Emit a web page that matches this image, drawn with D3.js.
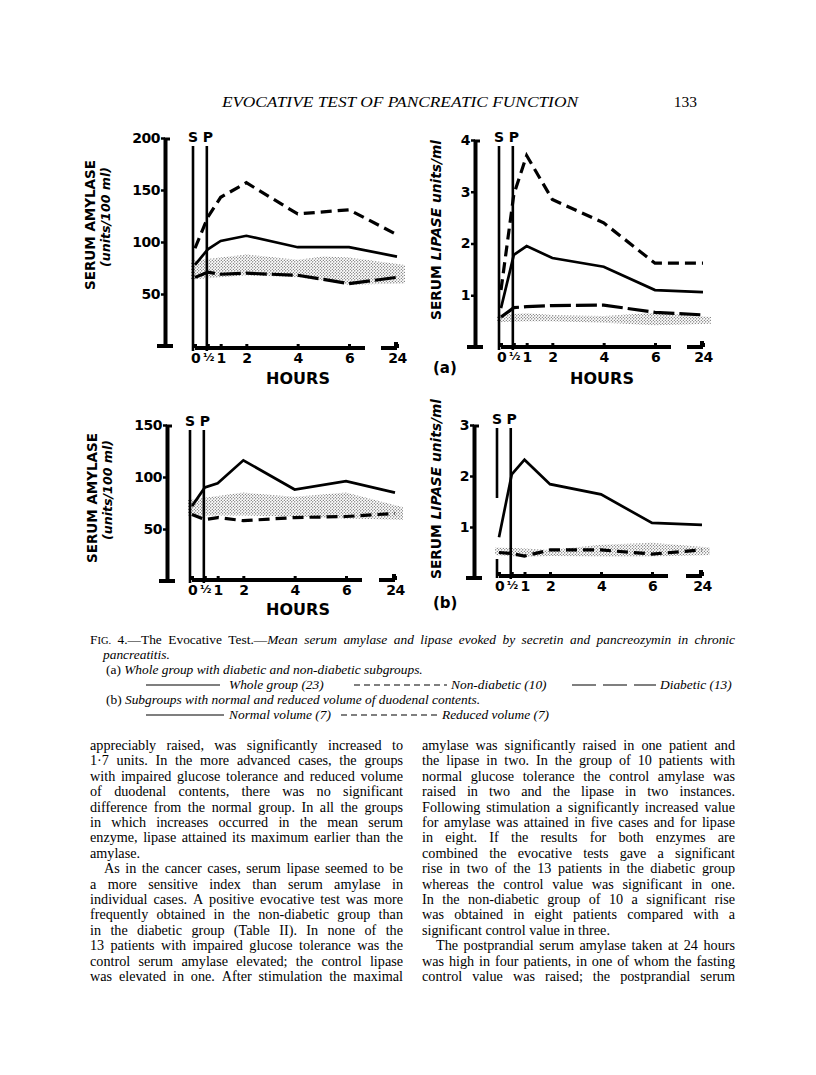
<!DOCTYPE html>
<html>
<head>
<meta charset="utf-8">
<script src="https://cdn.jsdelivr.net/npm/d3@7"></script>
<style>
  body { margin: 0; background: #fff; }
  svg { display: block; }
</style>
</head>
<body>
<svg width="816" height="1075"></svg>
<script>
// ---- data ----
const hours = [0, 0.5, 1, 2, 4, 6, 24];
const hourLabels = ["0", "½", "1", "2", "4", "6", "24"];

// (a) amylase, units/100 ml
const amyTicks = [50, 100, 150, 200];
const amyWhole = [78, 93, 101, 106, 95, 95, 86];
const amyNonDiabetic = [94, 124, 143, 157, 127, 131, 107];
const amyDiabetic = [66, 71, 69, 70, 68, 60, 66];
const amyBandHours = [0, 1, 2, 4, 5, 6, 24];
const amyBandLow = [64, 66, 68, 66, 63, 59, 60];
const amyBandHigh = [82, 85, 88, 83, 86, 85, 78];

// (a) lipase, units/ml
const lipTicks = [1, 2, 3, 4];
const lipWhole = [0.75, 1.78, 1.95, 1.72, 1.55, 1.1, 1.06];
const lipNonDiabetic = [1.1, 2.95, 3.7, 2.85, 2.4, 1.62, 1.62];
const lipDiabetic = [0.58, 0.76, 0.78, 0.8, 0.81, 0.67, 0.62];
const lipBandHours = [0, 1, 2, 4, 6, 24];
const lipBandLow = [0.48, 0.5, 0.5, 0.47, 0.42, 0.45];
const lipBandHigh = [0.62, 0.65, 0.62, 0.6, 0.66, 0.58];

// (b) amylase
const amyTicksB = [50, 100, 150];
const amyNormalVol = [72, 90, 94, 116, 88, 96, 85];
const amyReducedVol = [64, 59, 61, 58, 61, 62, 65];
const amyBandBHours = [0, 2, 4, 6, 24];
const amyBandBLow = [63, 63, 62, 60, 59];
const amyBandBHigh = [78, 85, 81, 85, 71];

// (b) lipase
const lipTicksB = [1, 2, 3];
const lipNormalVol = [0.8, 2.03, 2.32, 1.84, 1.64, 1.08, 1.04];
const lipReducedVol = [0.5, 0.48, 0.43, 0.55, 0.55, 0.47, 0.55];
const lipBandBHours = [0, 1, 2, 4, 6, 24];
const lipBandBLow = [0.45, 0.41, 0.43, 0.42, 0.42, 0.45];
const lipBandBHigh = [0.6, 0.58, 0.55, 0.65, 0.69, 0.6];

const SANS = "'DejaVu Sans', sans-serif";
const SERIF = "'Liberation Serif', 'Times New Roman', serif";
const svg = d3.select("svg");

// stippled "normal range" fill
const pat = svg.append("defs").append("pattern")
  .attr("id", "stipple").attr("width", 3).attr("height", 3)
  .attr("patternUnits", "userSpaceOnUse");
pat.append("circle").attr("cx", 0.8).attr("cy", 0.8).attr("r", 0.6).attr("fill", "#333");
pat.append("circle").attr("cx", 2.3).attr("cy", 2.3).attr("r", 0.55).attr("fill", "#333");

const solid = null, shortDash = "11,6", longDash = "21,5";

const panels = [
  {
    yMax: 200, ticks: amyTicks, yAxisX: 165, yTop: 138, y0: 346, base: 348,
    xr: [195, 349, 397], lineTop: 146,
    band: [amyBandHours, amyBandLow, amyBandHigh],
    series: [[amyWhole, solid], [amyNonDiabetic, shortDash], [amyDiabetic, longDash]],
    title: "amylase", titleX: 90, titleY: 225, hoursLabel: [298, 384]
  },
  {
    yMax: 4, ticks: lipTicks, yAxisX: 475, yTop: 140, y0: 347, base: 347,
    xr: [501, 655, 703], lineTop: 146,
    band: [lipBandHours, lipBandLow, lipBandHigh],
    series: [[lipWhole, solid], [lipNonDiabetic, shortDash], [lipDiabetic, longDash]],
    title: "lipase", titleX: 436, titleY: 230, hoursLabel: [602, 384], tag: ["(a)", 433, 373]
  },
  {
    yMax: 150, ticks: amyTicksB, yAxisX: 167, yTop: 425, y0: 581, base: 580,
    xr: [192, 346, 395], lineTop: 430,
    band: [amyBandBHours, amyBandBLow, amyBandBHigh],
    series: [[amyNormalVol, solid], [amyReducedVol, shortDash]],
    title: "amylase", titleX: 92, titleY: 498, hoursLabel: [298, 615]
  },
  {
    yMax: 3, ticks: lipTicksB, yAxisX: 474, yTop: 425, y0: 578, base: 576,
    xr: [499, 652, 702], lineTop: 428, sGap: [498, 559],
    band: [lipBandBHours, lipBandBLow, lipBandBHigh],
    series: [[lipNormalVol, solid], [lipReducedVol, shortDash]],
    title: "lipase", titleX: 436, titleY: 489, tag: ["(b)", 433, 608]
  }
];

function drawPanel(p) {
  const x = d3.scaleLinear().domain([0, 6, 24]).range(p.xr);
  const y = d3.scaleLinear().domain([0, p.yMax]).range([p.y0, p.yTop]);
  const g = svg.append("g");

  // normal range band
  const [bh, blo, bhi] = p.band;
  const last = bh.length - 1;
  const bx = (i) => x(bh[i]) + (i === 0 ? -4 : i === last ? 8 : 0);
  g.append("path")
    .datum(bh)
    .attr("fill", "url(#stipple)")
    .attr("d", d3.area().x((d, i) => bx(i)).y0((d, i) => y(blo[i])).y1((d, i) => y(bhi[i])));

  // mean curves
  const line = d3.line().x((d, i) => x(hours[i])).y(d => y(d));
  p.series.forEach(([vals, dash]) => {
    g.append("path")
      .datum(vals)
      .attr("fill", "none")
      .attr("stroke", "#000")
      .attr("stroke-width", dash ? 3.2 : 2.7)
      .attr("stroke-dasharray", dash)
      .attr("d", line);
  });

  // S (secretin) and P (pancreozymin) markers
  const sx = x(0) - 2, px = x(0.5) - 1;
  if (p.sGap) {
    g.append("line").attr("x1", sx).attr("x2", sx).attr("y1", p.lineTop).attr("y2", p.sGap[0]);
    g.append("line").attr("x1", sx).attr("x2", sx).attr("y1", p.sGap[1]).attr("y2", p.base + 2);
  } else {
    g.append("line").attr("x1", sx).attr("x2", sx).attr("y1", p.lineTop).attr("y2", p.base + 3);
  }
  g.append("line").attr("x1", px).attr("x2", px).attr("y1", p.lineTop).attr("y2", p.base + 3);
  g.selectAll("line").attr("stroke", "#000").attr("stroke-width", 2.6);
  [["S", sx], ["P", px + 1]].forEach(([t, lx]) => {
    g.append("text").attr("x", lx).attr("y", p.lineTop - 4).attr("text-anchor", "middle")
      .attr("font-family", SANS).attr("font-weight", "bold").attr("font-size", 14).text(t);
  });

  // y axis
  const ya = g.append("g").attr("transform", `translate(${p.yAxisX},0)`)
    .call(d3.axisLeft(y).tickValues(p.ticks).tickFormat(d3.format("d"))
      .tickSizeInner(4).tickSizeOuter(0).tickPadding(1));
  ya.select(".domain").attr("stroke-width", 4);
  ya.selectAll(".tick line").attr("stroke-width", 2.5);
  ya.selectAll("text").attr("font-family", SANS).attr("font-weight", "bold")
    .attr("font-size", 14).attr("letter-spacing", -0.5);
  g.append("line").attr("x1", p.yAxisX - 8).attr("x2", p.yAxisX + 8)
    .attr("y1", p.y0).attr("y2", p.y0).attr("stroke", "#000").attr("stroke-width", 4);
  g.append("line").attr("x1", p.yAxisX - 1).attr("x2", p.yAxisX + 5)
    .attr("y1", p.yTop + 1).attr("y2", p.yTop + 1).attr("stroke", "#000").attr("stroke-width", 3);

  // broken x axis
  const xa = g.append("g").attr("transform", `translate(0,${p.base})`)
    .call(d3.axisBottom(x).tickValues(hours).tickFormat((d, i) => hourLabels[i])
      .tickSizeInner(-4).tickSizeOuter(0).tickPadding(5));
  xa.select(".domain").remove();
  xa.selectAll(".tick line").attr("stroke-width", 3);
  xa.selectAll("text").attr("font-family", SANS).attr("font-weight", "bold")
    .attr("font-size", 14).attr("letter-spacing", -0.5);
  xa.selectAll(".tick").filter((d) => d === 0.5).select("text").attr("font-size", 11);
  g.append("line").attr("x1", x(0)).attr("x2", x(6) + 16).attr("y1", p.base).attr("y2", p.base);
  g.append("line").attr("x1", x(24) - 16).attr("x2", x(24)).attr("y1", p.base).attr("y2", p.base);
  g.append("line").attr("x1", x(24) - 1).attr("x2", x(24) - 1).attr("y1", p.base).attr("y2", p.base - 6);
  g.selectAll(":scope > line").filter(function () { return !this.getAttribute("stroke"); })
    .attr("stroke", "#000").attr("stroke-width", 4);

  // axis titles
  const t = g.append("text")
    .attr("transform", `translate(${p.titleX},${p.titleY}) rotate(-90)`)
    .attr("text-anchor", "middle").attr("font-family", SANS).attr("font-weight", "bold")
    .attr("font-size", 14).attr("dy", "0.35em");
  if (p.title === "amylase") {
    t.text("SERUM AMYLASE").attr("textLength", 130).attr("lengthAdjust", "spacingAndGlyphs");
    g.append("text")
      .attr("transform", `translate(${p.titleX + 15},${p.titleY - 8}) rotate(-90)`)
      .attr("text-anchor", "middle").attr("font-family", SANS).attr("font-weight", "bold")
      .attr("font-style", "italic").attr("font-size", 13).attr("dy", "0.35em")
      .attr("textLength", 100).attr("lengthAdjust", "spacingAndGlyphs")
      .text("(units/100 ml)");
  } else {
    t.attr("textLength", 180).attr("lengthAdjust", "spacingAndGlyphs");
    t.append("tspan").text("SERUM ");
    t.append("tspan").attr("font-style", "italic").text("LIPASE units/ml");
  }
  if (p.hoursLabel) {
    g.append("text").attr("x", p.hoursLabel[0]).attr("y", p.hoursLabel[1])
      .attr("text-anchor", "middle").attr("font-family", SANS).attr("font-weight", "bold")
      .attr("font-size", 16).text("HOURS");
  }
  if (p.tag) {
    g.append("text").attr("x", p.tag[1]).attr("y", p.tag[2])
      .attr("font-family", SANS).attr("font-weight", "bold").attr("font-size", 15).text(p.tag[0]);
  }
}
panels.forEach(drawPanel);

// ---- page text ----
svg.append("text").attr("x", 400).attr("y", 107).attr("text-anchor", "middle")
  .attr("font-family", SERIF).attr("font-style", "italic").attr("font-size", 15.5)
  .attr("textLength", 356).attr("lengthAdjust", "spacingAndGlyphs")
  .text("EVOCATIVE TEST OF PANCREATIC FUNCTION");
svg.append("text").attr("x", 697).attr("y", 107).attr("text-anchor", "end")
  .attr("font-family", SERIF).attr("font-size", 15.5).text("133");

const measurer = svg.append("text").attr("font-family", SERIF).attr("visibility", "hidden");
function partWidth(p, size) {
  measurer.attr("font-size", p.sc ? size * 0.78 : size)
    .attr("font-style", p.i ? "italic" : "normal").text(p.t);
  return measurer.node().getComputedTextLength();
}
// lays out one line; segments are {t, i (italic), sc (small caps)}
function textLine(x, y, width, segs, size, justify) {
  const words = [];
  let cur = null;
  segs.forEach(s => {
    s.t.split(" ").forEach((piece, k) => {
      if (k > 0 || !cur) { cur = []; words.push(cur); }
      if (piece) cur.push({ t: piece, i: s.i, sc: s.sc });
    });
  });
  const ws = words.filter(w => w.length);
  const widths = ws.map(w => d3.sum(w, p => partWidth(p, size)));
  let gap = size * 0.25;
  if (justify && ws.length > 1) gap = Math.max(1.5, (width - d3.sum(widths)) / (ws.length - 1));
  const txt = svg.append("text").attr("y", y).attr("font-family", SERIF).attr("font-size", size);
  let cx = x;
  ws.forEach((w) => {
    w.forEach(p => {
      txt.append("tspan").attr("x", cx)
        .attr("font-style", p.i ? "italic" : null)
        .attr("font-size", p.sc ? size * 0.78 : null)
        .text(p.t);
      cx += partWidth(p, size);
    });
    cx += gap;
  });
}

// caption
const capL = 90, capR = 735, capSize = 13.4;
textLine(capL, 644, capR - capL, [
  { t: "F" }, { t: "IG.", sc: true }, { t: " 4.—The Evocative Test.—" },
  { t: "Mean serum amylase and lipase evoked by secretin and pancreozymin in chronic", i: true }
], capSize, true);
textLine(103, 659, 0, [{ t: "pancreatitis.", i: true }], capSize, false);
textLine(106, 674, 0, [{ t: "(a) " }, { t: "Whole group with diabetic and non-diabetic subgroups.", i: true }], capSize, false);
textLine(229, 689, 0, [{ t: "Whole group (23)", i: true }], capSize, false);
textLine(451, 689, 0, [{ t: "Non-diabetic (10)", i: true }], capSize, false);
textLine(660, 689, 0, [{ t: "Diabetic (13)", i: true }], capSize, false);
textLine(106, 704, 0, [{ t: "(b) " }, { t: "Subgroups with normal and reduced volume of duodenal contents.", i: true }], capSize, false);
textLine(229, 719, 0, [{ t: "Normal volume (7)", i: true }], capSize, false);
textLine(442, 719, 0, [{ t: "Reduced volume (7)", i: true }], capSize, false);

// caption key strokes
const keys = [
  [146, 220, 685, null], [354, 447, 685, "6,4"], [572, 656, 685, "24,7"],
  [146, 224, 715, null], [341, 439, 715, "6,4"]
];
keys.forEach(([x1, x2, ky, dash]) => {
  svg.append("line").attr("x1", x1).attr("x2", x2).attr("y1", ky).attr("y2", ky)
    .attr("stroke", "#000").attr("stroke-width", 1.1).attr("stroke-dasharray", dash);
});

// body columns
const leftCol = [
  ["appreciably raised, was significantly increased to", 1],
  ["1·7 units.  In the more advanced cases, the groups", 1],
  ["with impaired glucose tolerance and reduced volume", 1],
  ["of duodenal contents, there was no significant", 1],
  ["difference from the normal group.  In all the groups", 1],
  ["in which increases occurred in the mean serum", 1],
  ["enzyme, lipase attained its maximum earlier than the", 1],
  ["amylase.", 0],
  ["As in the cancer cases, serum lipase seemed to be", 2],
  ["a more sensitive index than serum amylase in", 1],
  ["individual cases.  A positive evocative test was more", 1],
  ["frequently obtained in the non-diabetic group than", 1],
  ["in the diabetic group (Table II).  In none of the", 1],
  ["13 patients with impaired glucose tolerance was the", 1],
  ["control serum amylase elevated;  the control lipase", 1],
  ["was elevated in one.  After stimulation the maximal", 1]
];
const rightCol = [
  ["amylase was significantly raised in one patient and", 1],
  ["the lipase in two.  In the group of 10 patients with", 1],
  ["normal glucose tolerance the control amylase was", 1],
  ["raised in two and the lipase in two instances.", 1],
  ["Following stimulation a significantly increased value", 1],
  ["for amylase was attained in five cases and for lipase", 1],
  ["in eight.  If the results for both enzymes are", 1],
  ["combined the evocative tests gave a significant", 1],
  ["rise in two of the 13 patients in the diabetic group", 1],
  ["whereas the control value was significant in one.", 1],
  ["In the non-diabetic group of 10 a significant rise", 1],
  ["was obtained in eight patients compared with a", 1],
  ["significant control value in three.", 0],
  ["The postprandial serum amylase taken at 24 hours", 2],
  ["was high in four patients, in one of whom the fasting", 1],
  ["control value was raised;  the postprandial serum", 1]
];
const bodySize = 14.2, bodyTop = 750, lead = 15.4, colW = 313;
[[leftCol, 90], [rightCol, 422]].forEach(([lines, x0]) => {
  lines.forEach(([s, mode], k) => {
    const indent = mode === 2 ? 14 : 0;
    textLine(x0 + indent, bodyTop + k * lead, colW - indent,
      [{ t: s.replace(/ {2}/g, " ") }], bodySize, mode > 0);
  });
});
</script>
</body>
</html>
